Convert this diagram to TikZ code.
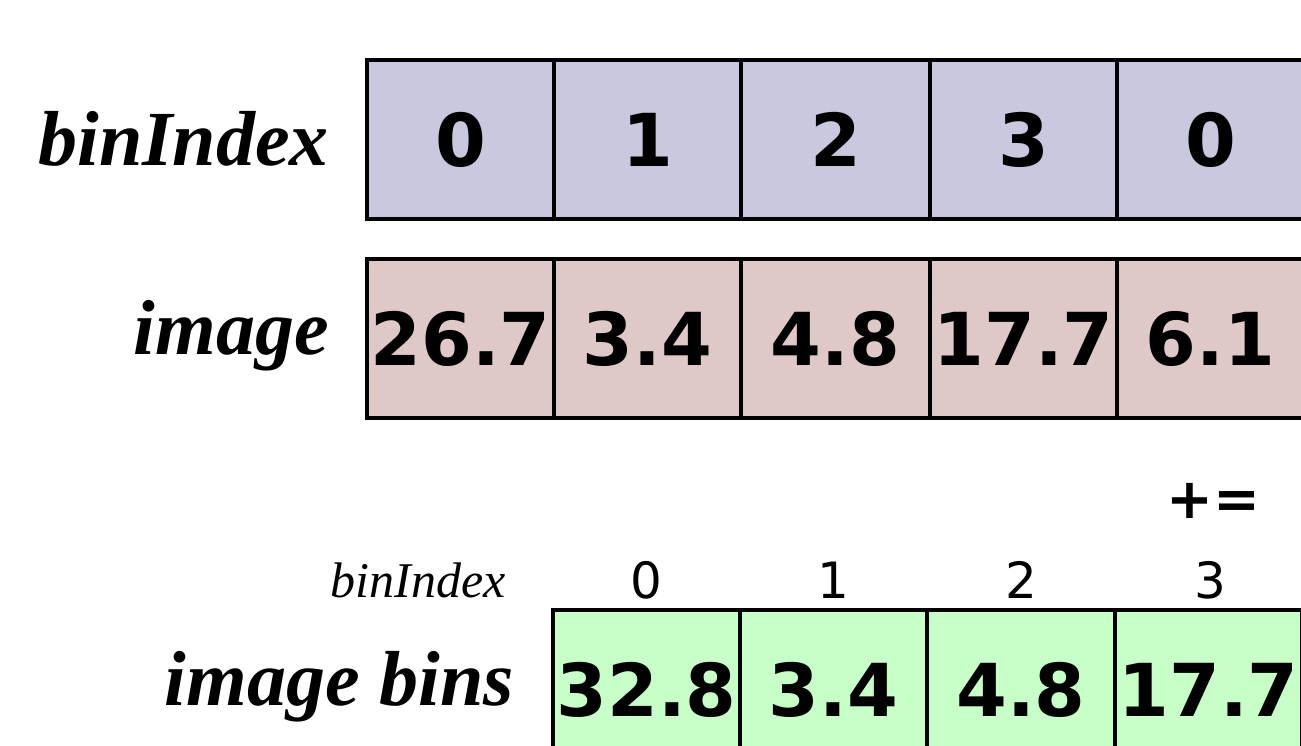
\documentclass[tikz,border=0pt]{standalone}
\usepackage{fontspec}
\newfontfamily\dejavu{DejaVu Sans}
\newfontfamily\lserif{Liberation Serif}
\definecolor{binblue}{RGB}{200,200,222}
\definecolor{imgpink}{RGB}{222,200,200}
\definecolor{bingreen}{RGB}{200,255,200}
\tikzset{
  cell/.style={draw=black, line width=3.5pt, minimum width=187pt, minimum height=159pt, inner sep=0pt, anchor=center,
     font={\dejavu\bfseries\fontsize{73}{80}\selectfont}},
  rowlabel/.style={anchor=base east, inner sep=0pt, font={\lserif\bfseries\itshape\fontsize{78}{84}\selectfont}},
  smalllabel/.style={anchor=base east, inner sep=0pt, font={\lserif\itshape\fontsize{50}{56}\selectfont}},
  smalldigit/.style={anchor=base, inner sep=0pt, font={\dejavu\fontsize{50}{56}\selectfont}},
  opnode/.style={anchor=center, inner sep=0pt, font={\dejavu\bfseries\fontsize{56}{60}\selectfont}}
}
\begin{document}
\begin{tikzpicture}[x=1pt,y=-1pt]
\useasboundingbox (0,0) rectangle (1301,745);
% row 1: binIndex
\node[cell, fill=binblue, minimum width=187pt] (b0) at (460.5,139.5) {0};
\node[cell, fill=binblue, minimum width=187pt] (b1) at (647.5,139.5) {1};
\node[cell, fill=binblue, minimum width=189pt] (b2) at (835.5,139.5) {2};
\node[cell, fill=binblue, minimum width=187pt] (b3) at (1023.5,139.5) {3};
\node[cell, fill=binblue, minimum width=187pt] (b4) at (1210.5,139.5) {0};
% row 2: image
\node[cell, fill=imgpink, minimum width=187pt] (i0) at (460.5,338.5) {26.7};
\node[cell, fill=imgpink, minimum width=187pt] (i1) at (647.5,338.5) {3.4};
\node[cell, fill=imgpink, minimum width=189pt] (i2) at (835.5,338.5) {4.8};
\node[cell, fill=imgpink, minimum width=187pt] (i3) at (1023.5,338.5) {17.7};
\node[cell, fill=imgpink, minimum width=187pt] (i4) at (1210.5,338.5) {6.1};
% row 3: image bins
\node[cell, fill=bingreen, minimum width=187pt, minimum height=160pt] (g0) at (646.5,690) {32.8};
\node[cell, fill=bingreen, minimum width=187pt, minimum height=160pt] (g1) at (833.5,690) {3.4};
\node[cell, fill=bingreen, minimum width=188pt, minimum height=160pt] (g2) at (1021,690) {4.8};
\node[cell, fill=bingreen, minimum width=187pt, minimum height=160pt] (g3) at (1208.5,690) {17.7};
% labels
\node[rowlabel] (lbin) at (329,165) {binIndex};
\node[rowlabel] (limg) at (329,354) {image};
\node[rowlabel] (lbins) at (514,705) {image bins};
\node[smalllabel] (lsmall) at (506,597) {binIndex};
\node[smalldigit] (d0) at (646.5,598) {0};
\node[smalldigit] (d1) at (833.5,598) {1};
\node[smalldigit] (d2) at (1021,598) {2};
\node[smalldigit] (d3) at (1210,598) {3};
\node[opnode] (op) at (1213,501) {+=};
\end{tikzpicture}
\end{document}
